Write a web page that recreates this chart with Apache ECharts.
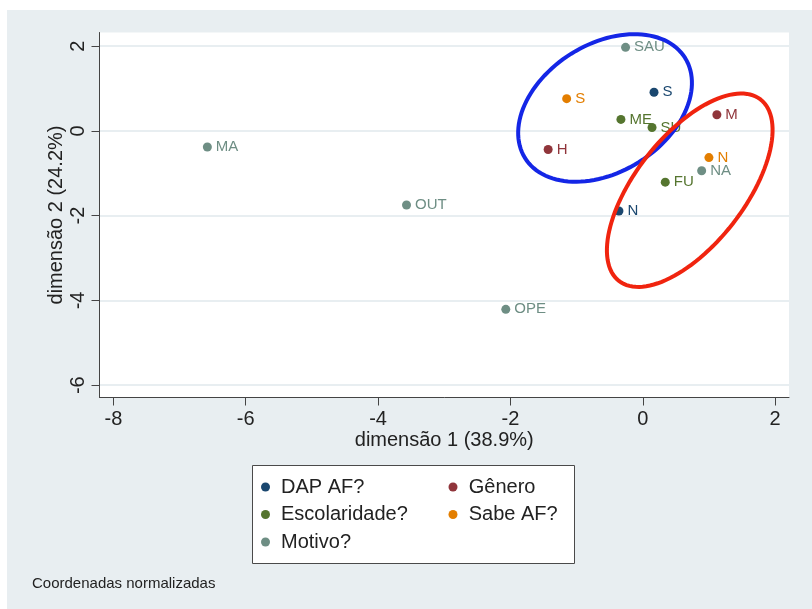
<!DOCTYPE html>
<html>
<head>
<meta charset="utf-8">
<title>Coordenadas normalizadas</title>
<script src="https://cdn.jsdelivr.net/npm/echarts@6/dist/echarts.min.js"></script>
<style>
  html, body { margin: 0; padding: 0; background: #ffffff; }
  #chart { width: 812px; height: 609px; }
</style>
</head>
<body>
<div id="chart"></div>
<script>
// Category points on the first two dimensions: [dim1, dim2, label]
const dapAF        = [[0.17, 0.91, 'S'], [-0.36, -1.89, 'N']];
const genero       = [[1.12, 0.38, 'M'], [-1.43, -0.44, 'H']];
const escolaridade = [[-0.33, 0.27, 'ME'], [0.14, 0.08, 'SU'], [0.34, -1.21, 'FU']];
const sabeAF       = [[-1.15, 0.76, 'S'], [1.00, -0.63, 'N']];
const motivo       = [[-0.26, 1.97, 'SAU'], [-6.58, -0.38, 'MA'], [-3.57, -1.75, 'OUT'], [-2.07, -4.21, 'OPE'], [0.89, -0.94, 'NA']];

const groupNames = ['DAP AF?', 'Gênero', 'Escolaridade?', 'Sabe AF?', 'Motivo?'];

// Axis ranges and tick labels
const xRange = [-8.21, 2.21];
const yRange = [-6.29, 2.32];
const xTicks = [-8, -6, -4, -2, 0, 2];
const yTicks = [-6, -4, -2, 0, 2];

// Highlight ellipses in data units: centre, end of one semi-diameter, end of its conjugate
const blueEllipse = [[-0.57, 0.54], [0.64, 1.72], [-1.08, 1.82]];
const redEllipse  = [[0.71, -1.40], [1.78, 0.74], [0.06, -0.61]];

const colors = {
  'DAP AF?': '#1a476f',
  'Gênero': '#90353b',
  'Escolaridade?': '#55752f',
  'Sabe AF?': '#e37e00',
  'Motivo?': '#6e8e84'
};
const groupData = {
  'DAP AF?': dapAF,
  'Gênero': genero,
  'Escolaridade?': escolaridade,
  'Sabe AF?': sabeAF,
  'Motivo?': motivo
};

const FONT = '"Liberation Sans", Arial, Helvetica, sans-serif';

const scatterSeries = groupNames.map(name => ({
  name: name,
  type: 'scatter',
  symbol: 'circle',
  symbolSize: 9,
  z: 2,
  itemStyle: { color: colors[name], opacity: 1 },
  label: {
    show: true,
    position: 'right',
    distance: 4,
    formatter: p => p.value[2],
    color: colors[name],
    fontFamily: FONT,
    fontSize: 15
  },
  emphasis: { disabled: true },
  data: groupData[name]
}));

function ellipseSeries(geom, stroke) {
  return {
    type: 'custom',
    silent: true,
    z: 5,
    clip: false,
    data: [[geom[0][0], geom[0][1]]],
    renderItem: (params, api) => {
      const c = geom[0], a = geom[1], b = geom[2];
      const pts = [];
      for (let i = 0; i < 120; i++) {
        const t = i / 120 * Math.PI * 2;
        const x = c[0] + (a[0] - c[0]) * Math.cos(t) + (b[0] - c[0]) * Math.sin(t);
        const y = c[1] + (a[1] - c[1]) * Math.cos(t) + (b[1] - c[1]) * Math.sin(t);
        pts.push(api.coord([x, y]));
      }
      return {
        type: 'polygon',
        shape: { points: pts },
        style: { fill: 'none', stroke: stroke, lineWidth: 4 }
      };
    }
  };
}

const legendText = { color: '#222222', fontFamily: FONT, fontSize: 20, lineHeight: 20 };

const chart = echarts.init(document.getElementById('chart'), null, { renderer: 'canvas' });
chart.setOption({
  animation: false,
  backgroundColor: '#ffffff',
  graphic: [
    { type: 'rect', z: -10, shape: { x: 7, y: 10, width: 805, height: 599 }, style: { fill: '#e8eef1' } },
    { type: 'rect', z: -5, shape: { x: 252.5, y: 465.5, width: 322, height: 98 }, style: { fill: '#ffffff', stroke: '#4a4a4a', lineWidth: 1 } },
    { type: 'text', left: 32, top: 576, style: { text: 'Coordenadas normalizadas', fill: '#222222', font: '15px ' + FONT } }
  ],
  grid: {
    left: 99.5, top: 32.5, right: 23, bottom: 211.5,
    show: true, backgroundColor: '#ffffff', borderWidth: 0,
    outerBoundsMode: 'none'
  },
  legend: [
    {
      data: ['DAP AF?', 'Escolaridade?', 'Motivo?'],
      orient: 'vertical', left: 261, top: 477, padding: 0,
      itemWidth: 21, itemHeight: 9, itemGap: 7.5, icon: 'circle',
      textStyle: legendText, selectedMode: false
    },
    {
      data: ['Gênero', 'Sabe AF?'],
      orient: 'vertical', left: 448.5, top: 477, padding: 0,
      itemWidth: 21.5, itemHeight: 9, itemGap: 7.5, icon: 'circle',
      textStyle: legendText, selectedMode: false
    }
  ],
  xAxis: {
    type: 'value',
    min: xRange[0], max: xRange[1],
    name: 'dimensão 1 (38.9%)',
    nameLocation: 'middle', nameGap: 33, nameMoveOverlap: false,
    nameTextStyle: { color: '#222222', fontFamily: FONT, fontSize: 20 },
    axisLine: { show: true, onZero: false, lineStyle: { color: '#444444', width: 1 } },
    axisTick: { show: true, length: 8, customValues: xTicks, lineStyle: { color: '#444444' } },
    axisLabel: { customValues: xTicks, margin: 12, color: '#222222', fontFamily: FONT, fontSize: 20 },
    splitLine: { show: false }
  },
  yAxis: {
    type: 'value',
    min: yRange[0], max: yRange[1],
    name: 'dimensão 2 (24.2%)',
    nameLocation: 'middle', nameGap: 33, nameMoveOverlap: false,
    nameTextStyle: { color: '#222222', fontFamily: FONT, fontSize: 20 },
    axisLine: { show: true, onZero: false, lineStyle: { color: '#444444', width: 1 } },
    axisTick: { show: true, length: 8, customValues: yTicks, lineStyle: { color: '#444444' } },
    axisLabel: { customValues: yTicks, rotate: 90, margin: 11, color: '#222222', fontFamily: FONT, fontSize: 20 },
    splitLine: { show: true, lineStyle: { color: '#e8eef1', width: 2 } }
  },
  series: scatterSeries.concat([
    ellipseSeries(blueEllipse, '#1426e6'),
    ellipseSeries(redEllipse, '#f0240f')
  ])
});
</script>
</body>
</html>
